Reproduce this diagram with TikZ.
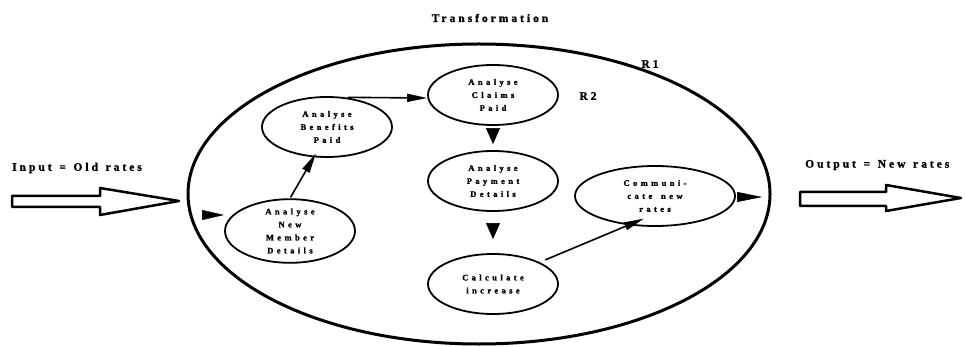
\documentclass[tikz,border=0pt]{standalone}
\usepackage{fontspec}
\setmainfont{Liberation Serif}
\newfontfamily\outerfont{Liberation Serif Bold}[LetterSpace=26,WordSpace=1.3,FakeBold=1.5]
\newfontfamily\innerfont{Liberation Serif Bold}[LetterSpace=40,WordSpace=1.6,FakeBold=1.5]
\usetikzlibrary{shapes.geometric,arrows.meta}

\tikzset{
  process/.style={ellipse, draw, line width=1.8pt, inner sep=0pt,
    minimum width=130pt, minimum height=60pt, align=center,
    font=\innerfont\fontsize{8.5}{13}\selectfont},
  system/.style={ellipse, draw, line width=3pt, inner sep=0pt,
    minimum width=582pt, minimum height=300pt},
  caption/.style={font=\outerfont\fontsize{11.5}{13}\selectfont, inner sep=0pt},
  flow/.style={line width=1.6pt, -{Triangle[length=20pt,width=8pt]}},
  tri/.style={line width=0.5pt, -{Triangle[length=#1,width=10pt]}},
  dtri/.style={line width=0.5pt, -{Triangle[length=#1,width=14pt]}},
  block/.style={draw, line width=2.5pt, line join=round, fill=white}
}

\begin{document}
\begin{tikzpicture}[x=1pt,y=-1pt]
\useasboundingbox (0,0) rectangle (965,347);

% the transformation boundary
\node[system] (sys) at (479,194) {};
\node[caption] (title) at (490,18) {Transformation};
\node[caption] (r1) at (650,64) {R1};
\node[caption] (r2) at (588,96) {R2};

% processes
\node[process] (claims)   at (493,95)  {Analyse\\Claims\\Paid};
\node[process] (benefits) at (327,127) {Analyse\\Benefits\\Paid};
\node[process] (member)   at (290,231) {Analyse\\New\\Member\\Details};
\node[process] (payment)  at (493,181) {Analyse\\Payment\\Details};
\node[process] (calc)     at (493,284) {Calculate\\increase};
\node[process, minimum width=160pt] (comm) at (655,196) {Communi-\\cate new\\rates};

% flows between processes
\draw[flow, shorten <=1pt] (member.north) -- ([yshift=4pt]benefits.250);
\draw[flow, shorten <=2pt] (benefits.58) -- ([yshift=-3pt]claims.west);
\draw[flow, shorten <=6pt] (calc.25) -- ([yshift=8pt]comm.250);

% arrowheads without shafts
\coordinate (inA) at (202,215);
\coordinate (inB) at (224,215);
\draw[tri=22pt] (inA) -- (inB);
\draw[dtri=16pt, shorten <=4pt, shorten >=6pt] (claims) -- (payment);
\draw[dtri=16pt, shorten <=11pt, shorten >=14pt] (payment) -- (calc);
\coordinate (outA) at (737,197);
\coordinate (outB) at (762,197);
\draw[tri=25pt] (outA) -- (outB);

% input and output
\node[caption, anchor=west] (input) at (12,168) {Input = Old rates};
\node[caption, anchor=west] (output) at (805,165) {Output = New rates};
\draw[block] (12,196) -- (100,196) -- (100,188) -- (179,201) -- (100,215)
  -- (100,207) -- (12,207) -- cycle;
\draw[block] (800,192) -- (886,192) -- (886,185) -- (961,198) -- (886,211)
  -- (886,206) -- (800,206) -- cycle;
\end{tikzpicture}
\end{document}
